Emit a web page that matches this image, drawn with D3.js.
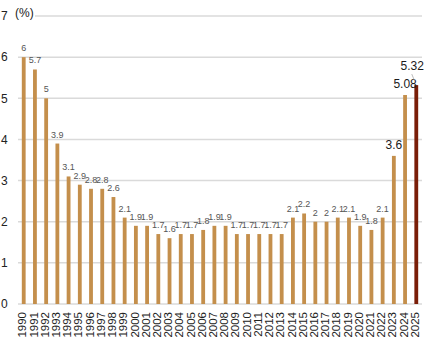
<!DOCTYPE html>
<html><head><meta charset="utf-8">
<script src="https://cdn.jsdelivr.net/npm/d3@7"></script>
<style>body{margin:0;background:#fff;}svg{display:block;font-family:"Liberation Sans",Arial,sans-serif;}</style>
</head><body>
<svg id="c" width="428" height="356"></svg>
<script>
const years = ["1990","1991","1992","1993","1994","1995","1996","1997","1998","1999","2000","2001","2002","2003","2004","2005","2006","2007","2008","2009","2010","2011","2012","2013","2014","2015","2016","2017","2018","2019","2020","2021","2022","2023","2024","2025"];
const values = [6,5.7,5,3.9,3.1,2.9,2.8,2.8,2.6,2.1,1.9,1.9,1.7,1.6,1.7,1.7,1.8,1.9,1.9,1.7,1.7,1.7,1.7,1.7,2.1,2.2,2,2,2.1,2.1,1.9,1.8,2.1,3.6,5.08,5.32];
const labels = ["6","5.7","5","3.9","3.1","2.9","2.8","2.8","2.6","2.1","1.9","1.9","1.7","1.6","1.7","1.7","1.8","1.9","1.9","1.7","1.7","1.7","1.7","1.7","2.1","2.2","2","2","2.1","2.1","1.9","1.8","2.1","3.6","5.08","5.32"];
const highlightYears = ["2023","2024","2025"];
const yTicks = [0,1,2,3,4,5,6,7];

const svg = d3.select("#c");
const x = d3.scaleBand().domain(years).range([18,422]).paddingInner(0.66).paddingOuter(0.34);
const y = d3.scaleLinear().domain([0,7]).range([304,16]);

// gridlines
svg.append("g").selectAll("line").data(yTicks).join("line")
  .attr("x1", d => d===7 ? 35 : 18).attr("x2", 422)
  .attr("y1", d => y(d)).attr("y2", d => y(d))
  .attr("stroke", "#dadada").attr("stroke-width", 1.5);

// y tick labels
svg.append("g").selectAll("text").data(yTicks).join("text")
  .attr("x", 1).attr("y", d => y(d)).attr("dy","0.36em")
  .attr("font-size", 12).attr("fill","#222").text(d => d);

svg.append("text").attr("x",15).attr("y",17).attr("font-size",12).attr("fill","#222").text("(%)");

// bars
svg.append("g").selectAll("rect").data(years).join("rect")
  .attr("x", d => x(d)).attr("width", x.bandwidth())
  .attr("y", (d,i) => y(values[i])).attr("height", (d,i) => y(0)-y(values[i]))
  .attr("fill", d => d==="2025" ? "#7a1e08" : "#c48f4c");

// value labels
svg.append("g").selectAll("text").data(years).join("text")
  .attr("x", d => x(d)+x.bandwidth()/2 - (d==="2025"?4:0))
  .attr("y", (d,i) => y(values[i]) - (d==="2025" ? 15 : (highlightYears.includes(d) ? 6.5 : 6)))
  .attr("text-anchor","middle")
  .attr("font-size", d => highlightYears.includes(d) ? 12 : 9)
  .attr("fill", d => highlightYears.includes(d) ? "#1a1a1a" : "#555")
  .text((d,i) => labels[i]);

// leader line for 2025
const i25 = years.indexOf("2025");
svg.append("line")
  .attr("x1", x("2025")+x.bandwidth()/2-4.5).attr("y1", y(values[i25])-11)
  .attr("x2", x("2025")+x.bandwidth()/2-2).attr("y2", y(values[i25])-5)
  .attr("stroke","#aaa").attr("stroke-width",0.8);

// x labels
svg.append("g").selectAll("text").data(years).join("text")
  .attr("transform", d => `translate(${x(d)+x.bandwidth()/2-1.5},312) rotate(-90)`)
  .attr("text-anchor","end").attr("dy","0.36em")
  .attr("font-size", 11.5).attr("fill","#222").text(d => d);
</script>
</body></html>
